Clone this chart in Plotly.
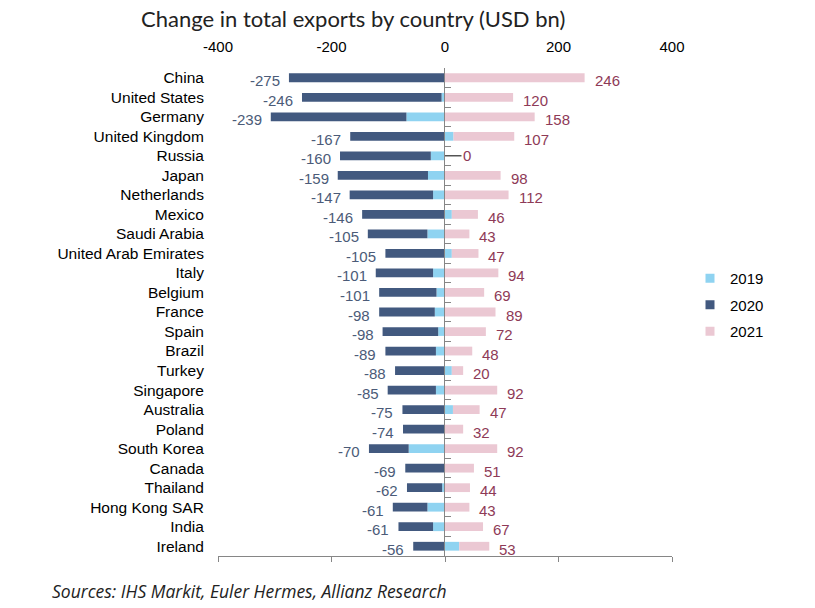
import plotly.graph_objects as go

countries = ["China", "United States", "Germany", "United Kingdom", "Russia", "Japan",
             "Netherlands", "Mexico", "Saudi Arabia", "United Arab Emirates", "Italy",
             "Belgium", "France", "Spain", "Brazil", "Turkey", "Singapore", "Australia",
             "Poland", "South Korea", "Canada", "Thailand", "Hong Kong SAR", "India", "Ireland"]
v2019 = [0, -6, -68, 15, -25, -30, -21, 12, -31, 12, -21, -15, -18, -12, -16, 12, -16, 14,
         0, -64, -1, -5, -31, -21, 25]
v2020 = [-275, -246, -239, -167, -160, -159, -147, -146, -105, -105, -101, -101, -98, -98,
         -89, -88, -85, -75, -74, -70, -69, -62, -61, -61, -56]
v2021 = [246, 120, 158, 107, 0, 98, 112, 46, 43, 47, 94, 69, 89, 72, 48, 20, 92, 47, 32,
         92, 51, 44, 43, 67, 53]
x_ticks = [-400, -200, 0, 200, 400]
x_tick_text = ["-400", "-200", "0", "200", "400"]

C19, C20, C21 = "#8FD3F1", "#42597F", "#EBC8D3"
NEG_TXT, POS_TXT = "#4B5B78", "#8E3A57"
FONT = "Arial, Liberation Sans, sans-serif"
AXC = "#868686"
W, H = 815, 608
ML, MR, MT, MB = 218, 143, 68, 52
PW, PH = W - ML - MR, H - MT - MB
n = len(countries)
yrange = [n - 0.5, -0.5]

fig = go.Figure()
for name, vals, col in [("2019", v2019, C19), ("2020", v2020, C20), ("2021", v2021, C21)]:
    fig.add_trace(go.Bar(y=countries, x=vals, orientation="h", name=name,
                         marker=dict(color=col, line=dict(width=0)),
                         showlegend=False, hoverinfo="x+y"))
    fig.add_trace(go.Scatter(x=[None], y=[None], mode="markers", name=name,
                             marker=dict(symbol="square", size=9, color=col),
                             legendgroup=name, showlegend=True))

# invisible trace so the bottom value-axis line is drawn
fig.add_trace(go.Scatter(x=[0] * n, y=countries, mode="markers",
                         marker=dict(opacity=0), xaxis="x2", yaxis="y",
                         showlegend=False, hoverinfo="skip"))
# invisible trace on an extra subplot whose left edge sits at x = 0 (category axis line)
fig.add_trace(go.Scatter(x=[0] * n, y=countries, mode="markers",
                         marker=dict(opacity=0), xaxis="x3", yaxis="y3",
                         showlegend=False, hoverinfo="skip"))

ann = []
for c, a, b, d in zip(countries, v2019, v2020, v2021):
    neg_end = b + min(a, 0)
    pos_end = d + max(a, 0)
    ann.append(dict(x=neg_end, y=c, text=str(b), showarrow=False, xanchor="right",
                    xshift=-7, yshift=-3, font=dict(family=FONT, size=15, color=NEG_TXT)))
    if d == 0:
        ann.append(dict(x=0, y=c, text=str(d), showarrow=True, arrowhead=0, arrowwidth=1,
                        arrowcolor="#000000", ax=22, ay=0,
                        font=dict(family=FONT, size=15, color=POS_TXT)))
    else:
        ann.append(dict(x=pos_end, y=c, text=str(d), showarrow=False, xanchor="left",
                        xshift=8, yshift=-3, font=dict(family=FONT, size=15, color=POS_TXT)))

ann.append(dict(xref="paper", yref="paper", x=(50 - ML) / PW, y=(H - MB - 591) / PH,
                xanchor="left", yanchor="middle", showarrow=False,
                text="<i>Sources: IHS Markit, Euler Hermes, Allianz Research</i>",
                font=dict(family="Open Sans", size=17.5, color="#222222")))

fig.update_layout(
    width=W, height=H, margin=dict(l=ML, r=MR, t=MT, b=MB, autoexpand=False),
    paper_bgcolor="white", plot_bgcolor="rgba(0,0,0,0)",
    barmode="relative", bargap=0.55,
    title=dict(text="Change in total exports by country (USD bn)", x=141 / W, xanchor="left",
               xref="container", yref="container", y=1 - 19 / H, yanchor="middle",
               font=dict(family="Lato", size=22, color="#222222")),
    xaxis=dict(range=[-400, 400], autorange=False, side="top", tickmode="array",
               tickvals=x_ticks, ticktext=x_tick_text, showgrid=False, zeroline=False,
               showline=False, ticks="outside", ticklen=9, tickcolor="rgba(0,0,0,0)",
               tickfont=dict(family=FONT, size=15, color="#000000")),
    xaxis2=dict(range=[-400, 400], autorange=False, overlaying="x", side="bottom", anchor="y",
                tickmode="array", tickvals=x_ticks,
                showticklabels=False, showgrid=False, zeroline=False, showline=True,
                linecolor=AXC, linewidth=1, ticks="outside", ticklen=5, tickcolor=AXC),
    xaxis3=dict(domain=[0.5, 1], range=[0, 400], anchor="y3", visible=False),
    yaxis=dict(type="category", range=yrange, autorange=False, tickmode="array",
               tickvals=countries, ticktext=countries,
               showgrid=False, zeroline=False, showline=False,
               ticks="outside", ticklen=10, tickcolor="rgba(0,0,0,0)",
               tickfont=dict(family=FONT, size=15.5, color="#000000")),
    yaxis3=dict(type="category", range=yrange, autorange=False, anchor="x3", side="left",
                tickmode="array", tickvals=countries, showticklabels=False,
                showgrid=False, zeroline=False, showline=True, linecolor=AXC, linewidth=1,
                ticks="inside", ticklen=6, tickcolor=AXC, tickson="boundaries"),
    legend=dict(xref="container", yref="container", x=690 / W, y=1 - 262 / H,
                xanchor="left", yanchor="top", tracegroupgap=4,
                font=dict(family=FONT, size=15, color="#000000"),
                bgcolor="rgba(0,0,0,0)"),
    annotations=ann,
)

fig.write_html("out.html")
